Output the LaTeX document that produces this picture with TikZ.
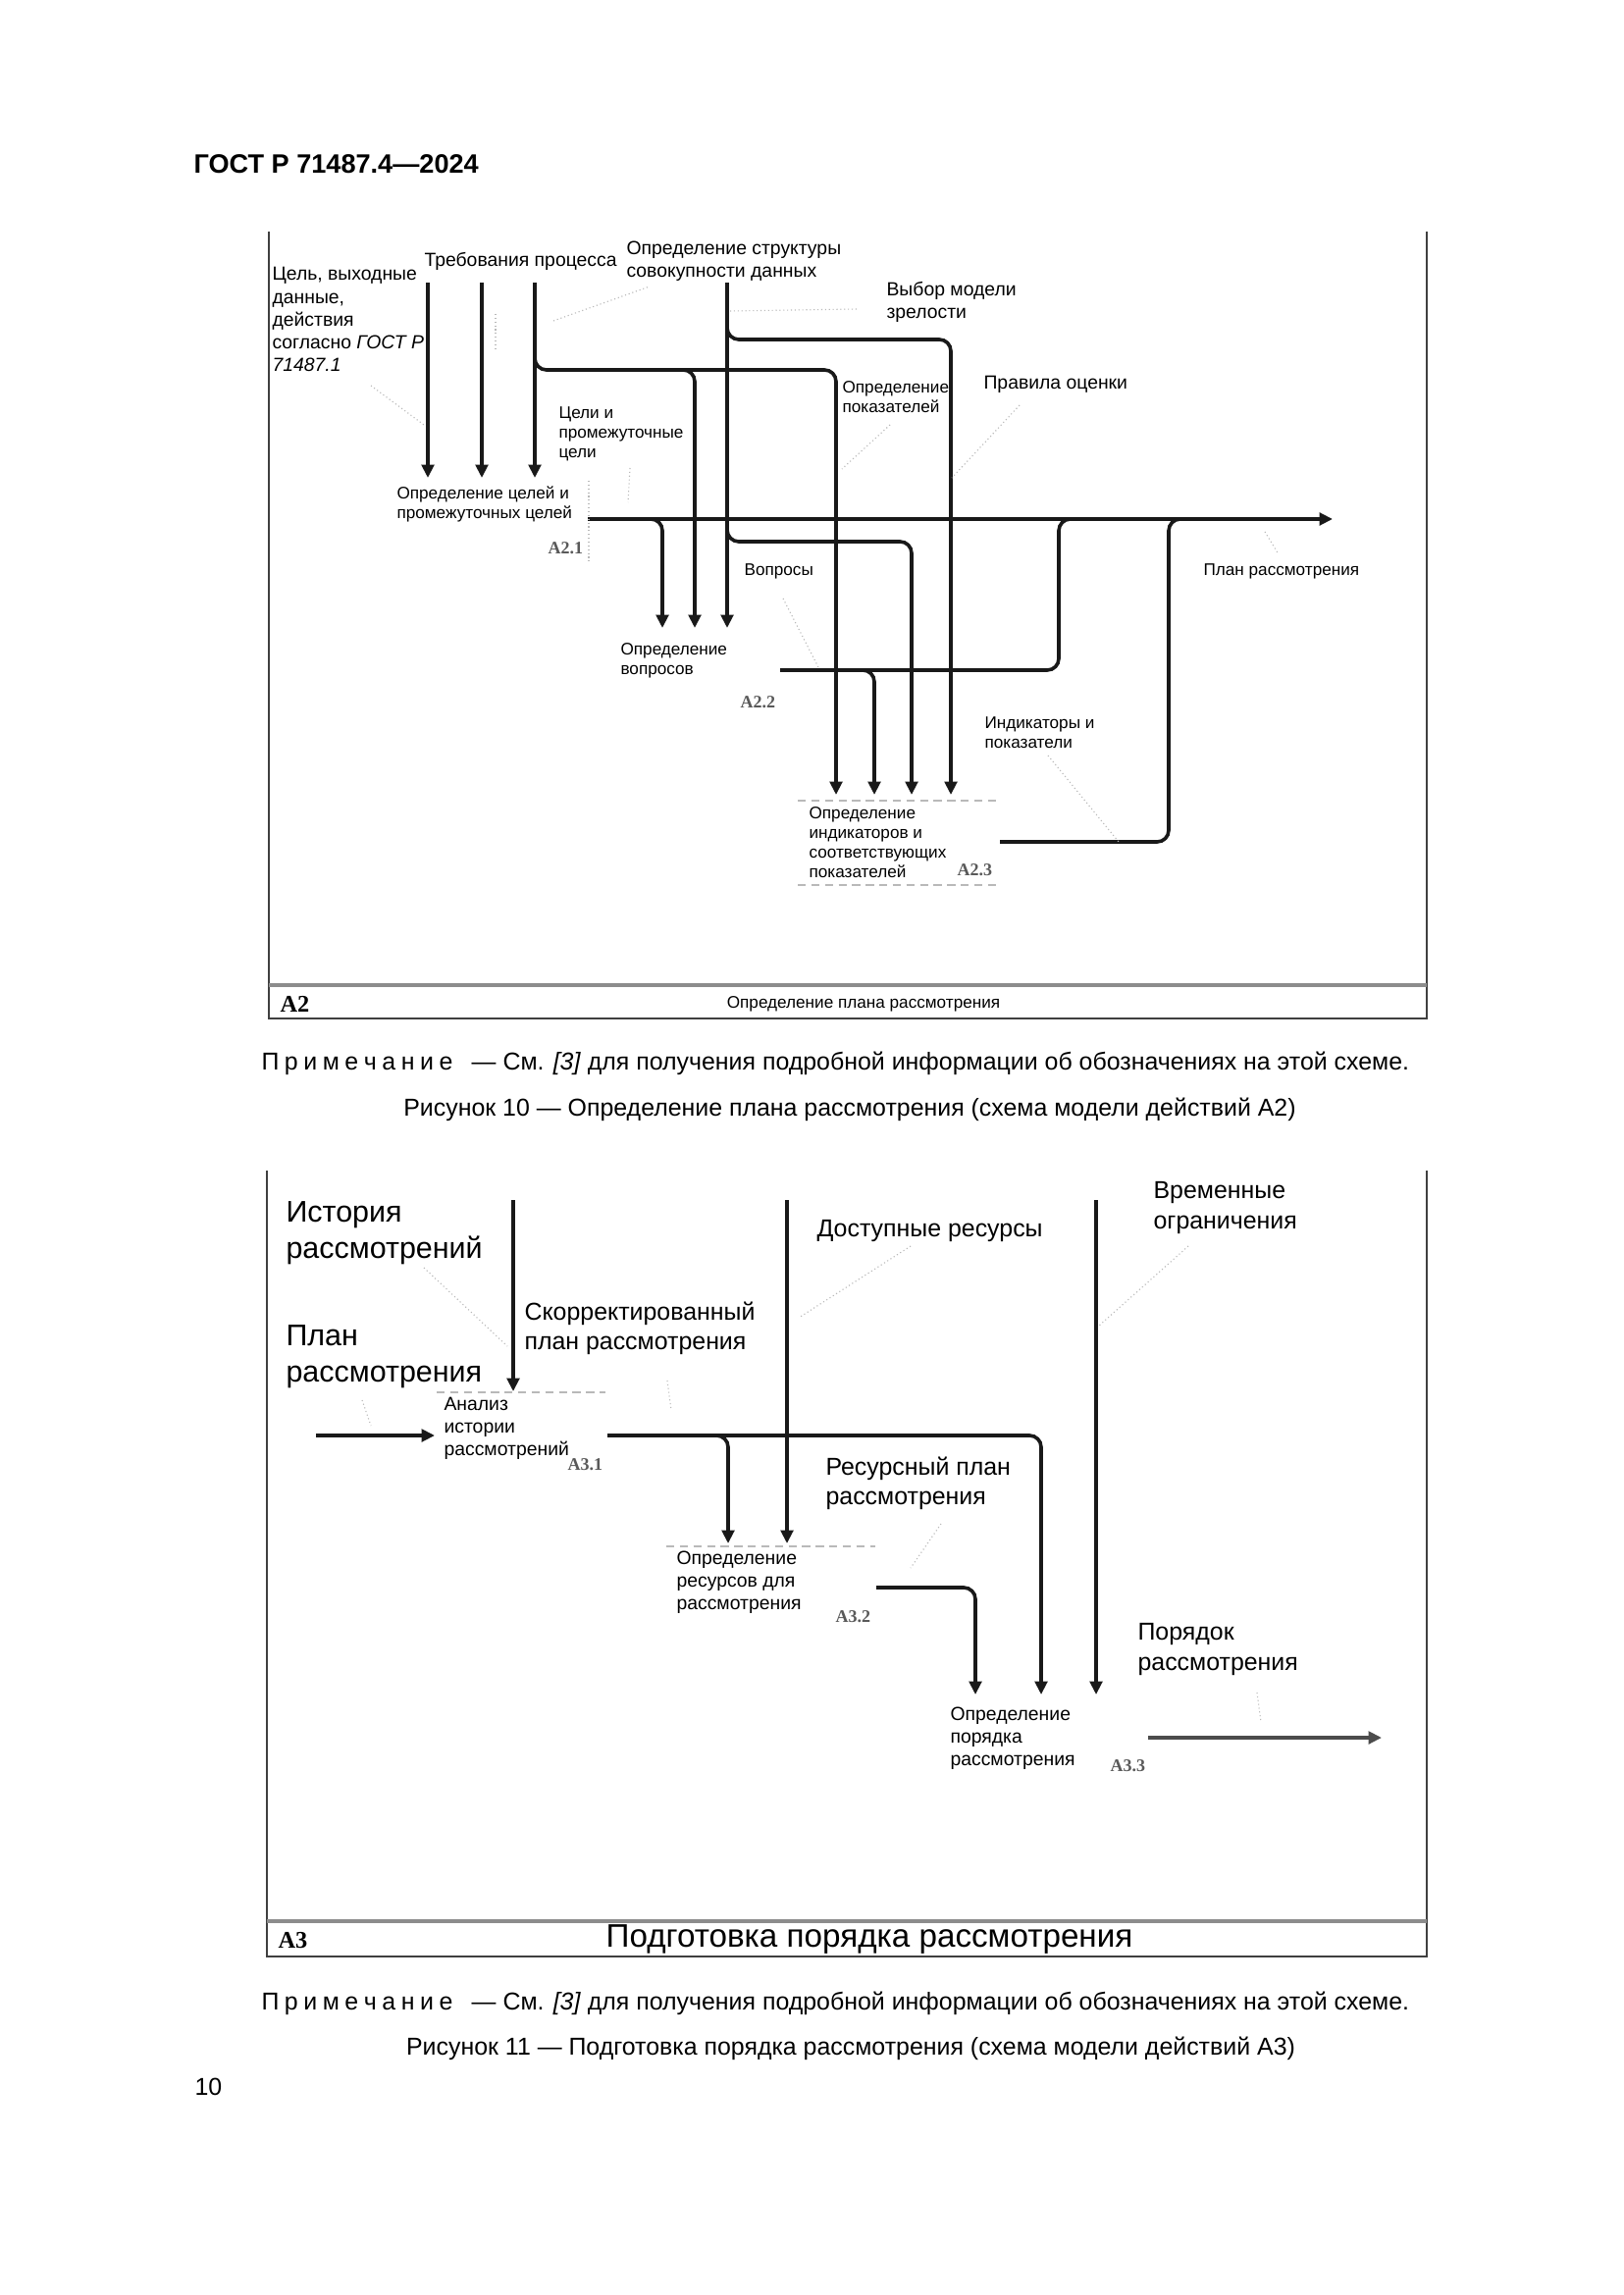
\documentclass[tikz,border=0pt]{standalone}
\usepackage{fontspec}
\setmainfont{Liberation Sans}
\newfontfamily\lsr{Liberation Serif}
\usetikzlibrary{arrows.meta}
\newcommand\primtxt{П\kern2pt р\kern2pt и\kern2pt м\kern2pt е\kern2pt ч\kern2pt а\kern2pt н\kern2pt и\kern2pt е}
\tikzset{
  ln/.style={line width=1.3pt, black!90, rounded corners=1.5mm},
  arr/.style={ln, -{Triangle[length=1.7mm,width=1.6mm]}},
  frm/.style={line width=0.8pt, black!75},
  sepl/.style={line width=1.5pt, black!45},
  lead/.style={gray!55, line width=0.4pt, densely dotted},
  boxtr/.style={gray!55, line width=0.4pt, densely dashed},
  lblA/.style={anchor=north west, inner sep=0pt, align=left, font=\fontsize{7}{8.4}\selectfont},
  lblS/.style={anchor=north west, inner sep=0pt, align=left, font=\fontsize{6.2}{7.2}\selectfont},
  lblB/.style={anchor=north west, inner sep=0pt, align=left, font=\fontsize{11}{13.2}\selectfont},
  lblM/.style={anchor=north west, inner sep=0pt, align=left, font=\fontsize{9}{11}\selectfont},
  lblT/.style={anchor=north west, inner sep=0pt, align=left, font=\fontsize{7}{8.3}\selectfont},
  code/.style={anchor=west, inner sep=0pt, font=\lsr\bfseries\fontsize{6.5}{7}\selectfont, text=black!65},
  tcode/.style={anchor=base west, inner sep=0pt, font=\lsr\bfseries\fontsize{8.8}{10}\selectfont},
  txt/.style={anchor=base west, inner sep=0pt, font=\fontsize{9}{11}\selectfont},
  ctxt/.style={anchor=base, inner sep=0pt, font=\fontsize{9}{11}\selectfont},
}
\begin{document}
\begin{tikzpicture}[x=0.127mm, y=-0.127mm]
\fill[white] (0,0) rectangle (1654,2339);
\useasboundingbox (0,0) rectangle (1654,2339);

% header
\node[anchor=base west, inner sep=0pt, font=\bfseries\fontsize{9.8}{12}\selectfont] (hdr) at (197,177) {ГОСТ Р 71487.4—2024};

% ================= Figure 10 =================
\draw[frm] (274,236) -- (274,1038) -- (1454,1038) -- (1454,236);
\draw[sepl] (274,1004) -- (1454,1004);
\node[tcode] (tA2) at (285,1031) {A2};
\node[anchor=base, inner sep=0pt, font=\fontsize{6.2}{7}\selectfont] (tA2t) at (880,1027) {Определение плана рассмотрения};

% labels
\node[lblA] (tgoal) at (277,272) {Цель, выходные\\данные,\\действия\\согласно \textit{ГОСТ Р}\\\textit{71487.1}};
\node[lblA] (treq) at (432,257) {Требования процесса};
\node[lblA] (tstruct) at (638,245) {Определение структуры\\совокупности данных};
\node[lblA] (tmodel) at (903,287) {Выбор модели\\зрелости};
\node[lblA] (trules) at (1002,383) {Правила оценки};
\node[lblS] (tdefind) at (858,388) {Определение\\показателей};
\node[lblS] (tgoals) at (569,414) {Цели и\\промежуточные\\цели};
\node[lblS] (A21) at (404,495) {Определение целей и\\промежуточных целей};
\node[code] (c21) at (558,559) {A2.1};
\node[lblS] (tq) at (758,574) {Вопросы};
\node[lblS] (tplan) at (1226,574) {План рассмотрения};
\node[lblS] (A22) at (632,655) {Определение\\вопросов};
\node[code] (c22) at (754,716) {A2.2};
\node[lblS] (tind) at (1003,730) {Индикаторы и\\показатели};
\node[lblS] (A23) at (824,822) {Определение\\индикаторов и\\соответствующих\\показателей};
\node[code] (c23) at (975,887) {A2.3};

% coordinates
\coordinate (p1s) at (436,288); \coordinate (p1e) at (436,487);
\coordinate (p2s) at (491,288); \coordinate (p2e) at (491,487);
\coordinate (p3s) at (545,288); \coordinate (p3e) at (545,487);
\coordinate (s4) at (741,288);  \coordinate (q3) at (741,640);
\coordinate (o21) at (599,529); \coordinate (outA) at (1358,529);
\coordinate (q1) at (675,640);  \coordinate (q2) at (708,640);
\coordinate (i1) at (852,810);  \coordinate (i2) at (891,810);
\coordinate (i3) at (929,810);  \coordinate (i4) at (969,810);
\coordinate (o22) at (795,683); \coordinate (o23) at (1019,858);

% connectors
\draw[arr] (p1s) -- (p1e);
\draw[arr] (p2s) -- (p2e);
\draw[arr] (p3s) -- (p3e);
\draw[arr] (545,355) -- (545,377) -- (852,377) -- (i1);
\draw[arr] (688,377) -- (708,377) -- (q2);
\draw[arr] (s4) -- (q3);
\draw[arr] (741,324) -- (741,346) -- (969,346) -- (i4);
\draw[arr] (741,530) -- (741,552) -- (929,552) -- (i3);
\draw[arr] (o21) -- (outA);
\draw[arr] (655,529) -- (675,529) -- (q1);
\draw[ln] (o22) -- (1079,683) -- (1079,529) -- (1099,529);
\draw[arr] (871,683) -- (891,683) -- (i2);
\draw[ln] (o23) -- (1191,858) -- (1191,529) -- (1211,529);

% faint box traces
\draw[lead] (600,490) -- (600,575);
\draw[boxtr] (813,816) -- (1019,816);
\draw[boxtr] (813,902) -- (1019,902);

% faint leaders
\draw[lead] (378,393) -- (432,433);
\draw[lead] (505,320) -- (505,357);
\draw[lead] (564,327) -- (662,292);
\draw[lead] (744,317) -- (873,315);
\draw[lead] (1039,413) -- (970,487);
\draw[lead] (907,433) -- (858,478);
\draw[lead] (642,477) -- (640,512);
\draw[lead] (798,610) -- (835,682);
\draw[lead] (1289,542) -- (1303,565);
\draw[lead] (1068,770) -- (1140,858);

% captions
\node[txt] (n1) at (266,1090) {\primtxt\kern7pt— См. \textit{[3]} для получения подробной информации об обозначениях на этой схеме.};
\node[ctxt] (cap1) at (866,1137) {Рисунок 10 — Определение плана рассмотрения (схема модели действий А2)};

% ================= Figure 11 =================
\draw[frm] (272,1193) -- (272,1994) -- (1454,1994) -- (1454,1193);
\draw[sepl] (272,1958) -- (1454,1958);
\node[tcode] (tA3) at (283,1985) {A3};
\node[anchor=base, inner sep=0pt, font=\fontsize{12}{14}\selectfont] (tA3t) at (886,1984) {Подготовка порядка рассмотрения};

\node[lblB] (thist) at (291,1224) {История\\рассмотрений};
\node[lblB] (tplan2) at (291,1350) {План\\рассмотрения};
\node[lblM] (tcorr) at (534,1326) {Скорректированный\\план рассмотрения};
\node[lblM] (tres) at (832,1243) {Доступные ресурсы};
\node[lblM] (ttime) at (1175,1204) {Временные\\ограничения};
\node[lblT] (A31) at (452,1424) {Анализ\\истории\\рассмотрений};
\node[code] (c31) at (578,1493) {A3.1};
\node[lblM] (trplan) at (841,1484) {Ресурсный план\\рассмотрения};
\node[lblT] (A32) at (689,1580) {Определение\\ресурсов для\\рассмотрения};
\node[code] (c32) at (851,1648) {A3.2};
\node[lblM] (torder) at (1159,1654) {Порядок\\рассмотрения};
\node[lblT] (A33) at (968,1739) {Определение\\порядка\\рассмотрения};
\node[code] (c33) at (1131,1800) {A3.3};

\coordinate (r1s) at (523,1223); \coordinate (r1e) at (523,1418);
\coordinate (r2s) at (322,1463); \coordinate (r2e) at (443,1463);
\coordinate (o31) at (619,1463);
\coordinate (u1) at (742,1573); \coordinate (u2) at (802,1573);
\coordinate (r3s) at (802,1223);
\coordinate (r4s) at (1117,1223);
\coordinate (w1) at (994,1727); \coordinate (w2) at (1061,1727); \coordinate (w3) at (1117,1727);
\coordinate (o32) at (893,1618);
\coordinate (o33) at (1170,1771); \coordinate (outB) at (1408,1771);

\draw[arr] (r1s) -- (r1e);
\draw[arr] (r2s) -- (r2e);
\draw[arr] (o31) -- (1061,1463) -- (w2);
\draw[arr] (722,1463) -- (742,1463) -- (u1);
\draw[arr] (r3s) -- (u2);
\draw[arr] (r4s) -- (w3);
\draw[arr] (o32) -- (994,1618) -- (w1);
\draw[arr, black!70] (o33) -- (outB);

\draw[boxtr] (445,1419) -- (617,1419);
\draw[boxtr] (679,1576) -- (892,1576);

\draw[lead] (432,1292) -- (517,1372);
\draw[lead] (369,1427) -- (378,1453);
\draw[lead] (680,1407) -- (684,1437);
\draw[lead] (928,1270) -- (814,1343);
\draw[lead] (1211,1270) -- (1119,1352);
\draw[lead] (959,1553) -- (928,1598);
\draw[lead] (1281,1725) -- (1285,1755);

\node[txt] (n2) at (266,2048) {\primtxt\kern7pt— См. \textit{[3]} для получения подробной информации об обозначениях на этой схеме.};
\node[ctxt] (cap2) at (867,2094) {Рисунок 11 — Подготовка порядка рассмотрения (схема модели действий А3)};

\node[txt] (pg) at (198,2135) {10};
\end{tikzpicture}
\end{document}
